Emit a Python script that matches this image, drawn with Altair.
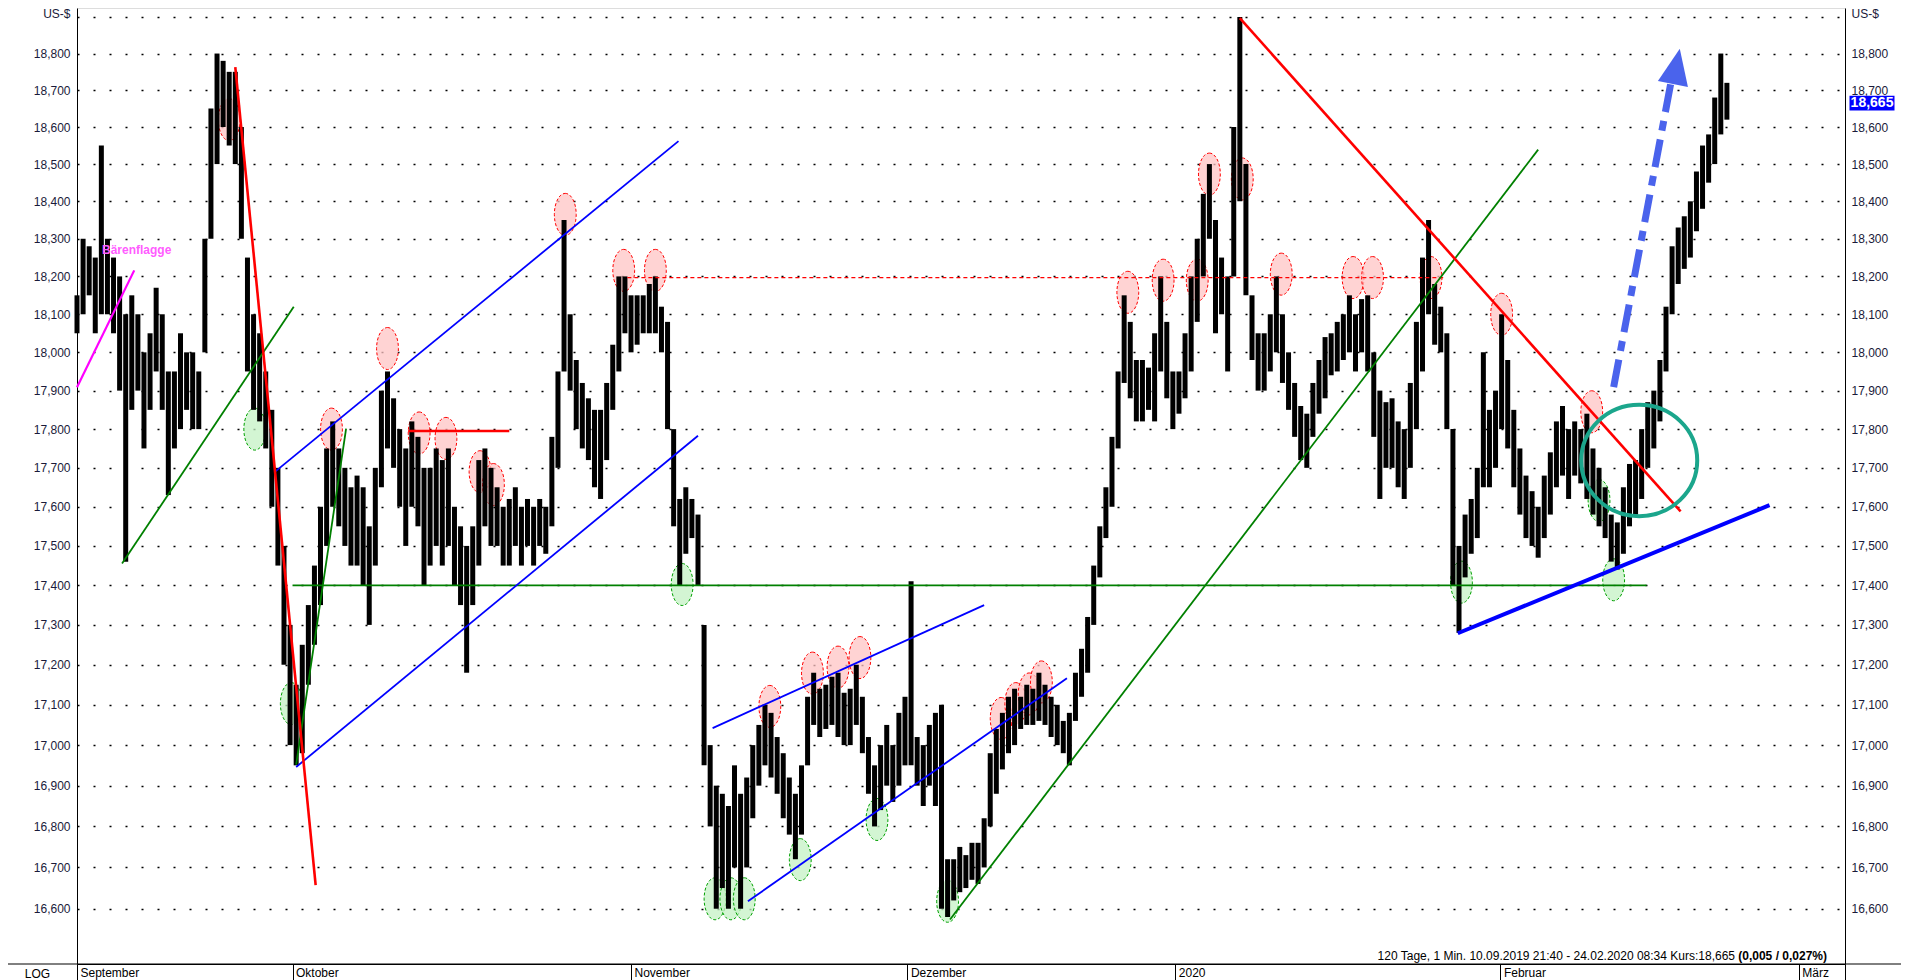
import altair as alt
import pandas as pd

# ---------------- data ----------------
# price bars (US-$), one bar per time slot
LOW = [
    18.05, 18.10, 18.15, 18.05, 18.10, 18.10, 18.05, 17.90, 17.46, 17.85,
    17.90, 17.75, 17.85, 17.95, 17.85, 17.63, 17.75, 17.80, 17.85, 17.80,
    17.80, 18.00, 18.30, 18.50, 18.60, 18.55, 18.50, 18.30, 17.95, 17.85,
    17.82, 17.75, 17.60, 17.45, 17.20, 17.00, 16.95, 16.98, 17.15, 17.25,
    17.35, 17.50, 17.60, 17.55, 17.50, 17.45, 17.45, 17.40, 17.30, 17.45,
    17.65, 17.75, 17.70, 17.60, 17.50, 17.60, 17.55, 17.40, 17.45, 17.50,
    17.45, 17.50, 17.40, 17.35, 17.18, 17.35, 17.45, 17.55, 17.50, 17.50,
    17.45, 17.45, 17.50, 17.45, 17.50, 17.45, 17.50, 17.48, 17.55, 17.70,
    17.95, 17.90, 17.80, 17.75, 17.72, 17.65, 17.62, 17.72, 17.85, 17.95,
    18.05, 18.00, 18.02, 18.05, 18.05, 18.05, 18.00, 17.80, 17.55, 17.40,
    17.48, 17.52, 17.40, 16.95, 16.80, 16.60, 16.65, 16.60, 16.70, 16.60,
    16.70, 16.82, 16.90, 16.95, 16.92, 16.88, 16.82, 16.78, 16.72, 16.78,
    16.95, 17.05, 17.02, 17.04, 17.05, 17.02, 17.00, 17.00, 17.05, 16.98,
    16.88, 16.80, 16.84, 16.90, 16.86, 16.90, 16.95, 16.95, 16.90, 16.85,
    16.90, 16.85, 16.60, 16.58, 16.62, 16.64, 16.65, 16.67, 16.66, 16.70,
    16.80, 16.88, 16.94, 16.98, 17.00, 17.04, 17.05, 17.05, 17.06, 17.05,
    17.02, 17.00, 16.98, 16.95, 17.06, 17.12, 17.18, 17.30, 17.42, 17.52,
    17.60, 17.75, 17.92, 17.88, 17.82, 17.82, 17.85, 17.82, 17.95, 17.88,
    17.80, 17.84, 17.88, 17.95, 18.08, 18.20, 18.30, 18.05, 18.10, 17.95,
    18.20, 18.40, 18.15, 17.98, 17.90, 17.90, 17.95, 18.00, 17.92, 17.85,
    17.78, 17.72, 17.70, 17.78, 17.84, 17.88, 17.94, 17.95, 17.98, 18.00,
    17.95, 18.00, 17.95, 17.78, 17.62, 17.70, 17.70, 17.65, 17.62, 17.70,
    17.80, 17.95, 18.10, 18.02, 18.00, 17.80, 17.40, 17.28, 17.42, 17.48,
    17.52, 17.65, 17.65, 17.70, 17.80, 17.75, 17.65, 17.58, 17.52, 17.50,
    17.47, 17.52, 17.58, 17.65, 17.68, 17.62, 17.68, 17.66, 17.62, 17.58,
    17.55, 17.52, 17.46, 17.44, 17.48, 17.55, 17.58, 17.62, 17.70, 17.75,
    17.82, 17.95, 18.10, 18.18, 18.22, 18.25, 18.32, 18.38, 18.45, 18.50,
    18.58, 18.62,
]
HIGH = [
    18.15, 18.30, 18.28, 18.25, 18.55, 18.30, 18.25, 18.20, 18.10, 18.15,
    18.10, 18.00, 18.05, 18.17, 18.10, 17.95, 17.95, 18.05, 18.00, 18.00,
    17.95, 18.30, 18.65, 18.80, 18.78, 18.75, 18.75, 18.60, 18.25, 18.10,
    18.05, 17.95, 17.85, 17.70, 17.50, 17.30, 17.15, 17.25, 17.35, 17.45,
    17.60, 17.75, 17.82, 17.75, 17.70, 17.65, 17.68, 17.65, 17.55, 17.70,
    17.90, 17.95, 17.88, 17.80, 17.75, 17.82, 17.78, 17.70, 17.70, 17.75,
    17.72, 17.75, 17.60, 17.55, 17.50, 17.55, 17.72, 17.75, 17.70, 17.65,
    17.60, 17.62, 17.65, 17.60, 17.62, 17.60, 17.62, 17.60, 17.78, 17.95,
    18.35, 18.10, 17.98, 17.92, 17.88, 17.85, 17.85, 17.92, 18.02, 18.20,
    18.20, 18.15, 18.15, 18.15, 18.18, 18.20, 18.12, 18.08, 17.80, 17.62,
    17.65, 17.62, 17.58, 17.30, 17.00, 16.90, 16.88, 16.85, 16.95, 16.88,
    16.92, 17.00, 17.05, 17.10, 17.08, 17.02, 16.98, 16.92, 16.88, 16.95,
    17.12, 17.18, 17.14, 17.15, 17.17, 17.18, 17.13, 17.14, 17.20, 17.12,
    17.02, 16.95, 17.00, 17.05, 17.00, 17.08, 17.12, 17.41, 17.02, 17.00,
    17.05, 17.08, 17.10, 16.72, 16.72, 16.75, 16.73, 16.76, 16.76, 16.82,
    16.98, 17.04, 17.08, 17.12, 17.14, 17.12, 17.15, 17.14, 17.18, 17.15,
    17.12, 17.10, 17.06, 17.08, 17.18, 17.24, 17.32, 17.45, 17.55, 17.65,
    17.78, 17.95, 18.15, 18.08, 17.98, 17.98, 17.96, 18.05, 18.20, 18.08,
    17.95, 17.95, 18.05, 18.20, 18.30, 18.42, 18.50, 18.35, 18.25, 18.20,
    18.60, 18.90, 18.50, 18.15, 18.05, 18.05, 18.10, 18.20, 18.10, 18.00,
    17.92, 17.86, 17.84, 17.92, 17.98, 18.04, 18.05, 18.08, 18.10, 18.15,
    18.10, 18.14, 18.15, 18.00, 17.90, 17.87, 17.88, 17.82, 17.80, 17.92,
    18.08, 18.25, 18.35, 18.18, 18.12, 18.05, 17.80, 17.50, 17.58, 17.62,
    17.70, 18.00, 17.85, 17.90, 18.10, 17.98, 17.85, 17.75, 17.68, 17.64,
    17.60, 17.68, 17.74, 17.82, 17.86, 17.80, 17.82, 17.80, 17.84, 17.75,
    17.70, 17.65, 17.58, 17.56, 17.65, 17.71, 17.72, 17.80, 17.87, 17.90,
    17.98, 18.12, 18.28, 18.33, 18.36, 18.40, 18.48, 18.55, 18.58, 18.68,
    18.80, 18.72,
]

# x axis: month starts (in time slots) and their labels
MONTH_TICKS = [0.0, 35.4, 91.0, 136.4, 180.4, 233.8, 282.8, 290.4]
MONTH_LABELS = ["September", "Oktober", "November", "Dezember", "2020", "Februar", "März", ""]
X_DOMAIN = [0.0, 290.4]

# y axis (log), US-$
Y_TICKS = [16.6, 16.7, 16.8, 16.9, 17.0, 17.1, 17.2, 17.3, 17.4, 17.5, 17.6, 17.7,
           17.8, 17.9, 18.0, 18.1, 18.2, 18.3, 18.4, 18.5, 18.6, 18.7, 18.8, 18.9]
Y_DOMAIN = [16.467, 18.925]

LAST_PRICE = 18.665
LAST_LABEL = "18,665"

# drawn trend lines: (x1, y1, x2, y2)
RED_SEG = [(26.0, 18.763, 39.2, 16.657), (54.4, 17.795, 71.0, 17.795), (191.0, 18.897, 263.4, 17.588)]
RED_DASH_SEG = [(90.4, 18.197, 224.4, 18.197)]
GREEN_SEG = [(7.4, 17.455, 35.6, 18.120), (36.0, 16.952, 44.2, 17.801),
             (143.4, 16.574, 240.0, 18.539), (35.4, 17.40, 257.8, 17.40)]
BLUE_SEG = [(32.6, 17.691, 98.8, 18.562), (36.0, 16.946, 102.0, 17.783),
            (104.4, 17.042, 149.0, 17.350), (110.2, 16.618, 162.6, 17.166)]
BLUE_THICK_SEG = [(226.8, 17.279, 278.0, 17.604)]
MAGENTA_SEG = [(0.0, 17.909, 9.4, 18.216)]
ARROW_SEG = [(252.4, 17.909, 261.8, 18.72)]
ARROW_HEAD = [(262.7, 18.765)]

# marked highs (red ellipses) and lows (green ellipses)
RED_MARKS = [(25.0, 18.62), (41.8, 17.80), (51.0, 18.01), (56.2, 17.79), (60.6, 17.776),
             (66.2, 17.69), (68.4, 17.657), (80.2, 18.365), (89.8, 18.216), (95.0, 18.216),
             (113.8, 17.096), (120.8, 17.179), (125.0, 17.194), (128.6, 17.218),
             (151.8, 17.066), (154.2, 17.103), (156.4, 17.127), (158.4, 17.157),
             (172.6, 18.158), (178.4, 18.19), (184.0, 18.19), (186.0, 18.473), (191.4, 18.46),
             (197.8, 18.206), (209.6, 18.197), (212.8, 18.197), (222.4, 18.197),
             (234.0, 18.10), (248.8, 17.845)]
GREEN_MARKS = [(29.2, 17.80), (35.2, 17.103), (99.4, 17.402), (104.8, 16.624), (107.4, 16.624),
               (109.6, 16.624), (118.8, 16.719), (131.4, 16.817), (143.0, 16.618),
               (227.4, 17.408), (250.0, 17.616), (252.4, 17.414)]
CIRCLE = [(256.6, 17.719)]

FLAG_TEXT = [(9.8, 18.271, "Bärenflagge")]
INFO_MAIN = "120 Tage, 1 Min. 10.09.2019 21:40 - 24.02.2020 08:34 Kurs:18,665"
INFO_BOLD = "(0,005 / 0,027%)"

# ---------------- chart ----------------
FONT = "Liberation Sans"
W, H = 1768, 956
xs = alt.Scale(domain=X_DOMAIN, nice=False, zero=False)
ys = alt.Scale(type="log", domain=Y_DOMAIN, nice=False, zero=False)

bars = pd.DataFrame({"t": list(range(len(LOW))), "lo": LOW, "hi": HIGH})

# x label expression from month ticks
mids = [(MONTH_TICKS[i] + MONTH_TICKS[i + 1]) / 2 for i in range(len(MONTH_TICKS) - 1)]
expr = "''"
for m, lab in reversed(list(zip(mids, MONTH_LABELS[:-1]))):
    expr = f"datum.value < {m} ? '{lab}' : ({expr})"
x_label_expr = expr
y_label_expr = "datum.value > 18.85 ? '' : replace(format(datum.value, '.3f'), '.', ',')"

x_axis = alt.Axis(values=MONTH_TICKS, labelExpr=x_label_expr, grid=False, tickSize=16,
                  tickColor="black", tickWidth=1, domainColor="black", domainWidth=1,
                  labelAlign="left", labelBaseline="top", labelOffset=3, labelPadding=-13,
                  labelFont=FONT, labelFontSize=12, labelColor="black", labelOverlap=False,
                  labelFlush=False, labelBound=False,
                  title="LOG", titleX=-40, titleY=9, titleBaseline="middle", titleAlign="center",
                  titleFont=FONT, titleFontSize=12, titleFontWeight="normal", titleColor="black")

y_left = alt.Axis(orient="left", values=Y_TICKS, labelExpr=y_label_expr, grid=True,
                  gridColor="black", gridDash=[2, 14], gridWidth=1.5, ticks=False,
                  domainColor="black", domainWidth=1, labelPadding=7,
                  labelFont=FONT, labelFontSize=12, labelColor="#1a1a3a",
                  title="US-$", titleAngle=0, titleAlign="right", titleX=-7, titleY=0,
                  titleBaseline="top", titleFont=FONT, titleFontSize=12,
                  titleFontWeight="normal", titleColor="#1a1a3a")
y_right = alt.Axis(orient="right", values=Y_TICKS, labelExpr=y_label_expr, grid=False,
                   ticks=False, domainColor="black", domainWidth=1, labelPadding=6,
                   labelFont=FONT, labelFontSize=12, labelColor="#1a1a3a",
                   title="US-$", titleAngle=0, titleAlign="left", titleX=6, titleY=0,
                   titleBaseline="top", titleFont=FONT, titleFontSize=12,
                   titleFontWeight="normal", titleColor="#1a1a3a")


def X(field):
    # every layer carries the same x axis definition so the shared axis is not disabled
    return alt.X(field, scale=xs, axis=x_axis)


ELLIPSE = "M0,-1 A0.52,1 0 1,1 0,1 A0.52,1 0 1,1 0,-1 Z"


def marks_layer(points, fill, stroke):
    df = pd.DataFrame(points, columns=["x", "y"])
    return alt.Chart(df).mark_point(shape=ELLIPSE, size=1764, filled=True, fill=fill,
                                    fillOpacity=0.75, stroke=stroke, strokeWidth=1,
                                    strokeDash=[3, 2], opacity=1).encode(
        x=X("x:Q"), y=alt.Y("y:Q", scale=ys, axis=None))


def seg_layer(segs, color, width, dash=None):
    df = pd.DataFrame(segs, columns=["x1", "y1", "x2", "y2"])
    kw = dict(color=color, strokeWidth=width)
    if dash:
        kw["strokeDash"] = dash
    return alt.Chart(df).mark_rule(**kw).encode(
        x=X("x1:Q"), y=alt.Y("y1:Q", scale=ys, axis=None),
        x2="x2:Q", y2="y2:Q")


red_marks = marks_layer(RED_MARKS, "#ffc4c4", "#ff0000")
green_marks = marks_layer(GREEN_MARKS, "#c4f2c4", "#00a000")

price = alt.Chart(bars).mark_rule(color="black", strokeWidth=5.0).encode(
    x=X("t:Q"),
    y=alt.Y("lo:Q", scale=ys, axis=y_left),
    y2="hi:Q")

lines = [
    seg_layer(RED_DASH_SEG, "#ff0000", 1.3, [4, 3]),
    seg_layer(GREEN_SEG, "#008000", 1.8),
    seg_layer(BLUE_SEG, "#0000ff", 1.8),
    seg_layer(BLUE_THICK_SEG, "#0000ff", 4),
    seg_layer(MAGENTA_SEG, "#ff00ff", 2.2),
    seg_layer(RED_SEG, "#ff0000", 2.6),
]

circle = alt.Chart(pd.DataFrame(CIRCLE, columns=["x", "y"])).mark_point(
    shape="M1,0 A1,0.96 0 1,1 -1,0 A1,0.96 0 1,1 1,0 Z", size=13456, filled=False,
    stroke="#1ba68c", strokeWidth=4, opacity=1).encode(
    x=X("x:Q"), y=alt.Y("y:Q", scale=ys, axis=None))

arrow = seg_layer(ARROW_SEG, "#4a63ec", 7, [28, 9, 10, 9])
arrow_head = alt.Chart(pd.DataFrame(ARROW_HEAD, columns=["x", "y"])).mark_point(
    shape="M0,-1 L0.85,1 L-0.85,1 Z", size=1296, filled=True, fill="#4a63ec",
    strokeWidth=0, angle=11, opacity=1).encode(
    x=X("x:Q"), y=alt.Y("y:Q", scale=ys, axis=None))

flag = alt.Chart(pd.DataFrame(FLAG_TEXT, columns=["x", "y", "t"])).mark_text(
    font=FONT, fontSize=12, fontWeight="bold", color="#ff5cff", align="center",
    baseline="middle").encode(
    x=X("x:Q"), y=alt.Y("y:Q", scale=ys, axis=None), text="t:N")

last_df = pd.DataFrame({"y": [LAST_PRICE], "t": [LAST_LABEL]})
last_box = alt.Chart(last_df).mark_point(
    shape="M-1,-0.33 L1,-0.33 L1,0.33 L-1,0.33 Z", size=2025, filled=True,
    fill="#0000ff", strokeWidth=0, opacity=1).encode(
    x=alt.value(W + 27), y=alt.Y("y:Q", scale=ys, axis=y_right))
last_text = alt.Chart(last_df).mark_text(
    font=FONT, fontSize=14, fontWeight="bold", color="white", align="center",
    baseline="middle").encode(
    x=alt.value(W + 27), y=alt.Y("y:Q", scale=ys, axis=None), text="t:N")

info_main = alt.Chart(pd.DataFrame({"t": [INFO_MAIN]})).mark_text(
    font=FONT, fontSize=12, color="black", align="right", baseline="middle").encode(
    x=alt.value(W - 110), y=alt.value(H - 8), text="t:N")
info_bold = alt.Chart(pd.DataFrame({"t": [INFO_BOLD]})).mark_text(
    font=FONT, fontSize=12, fontWeight="bold", color="black", align="right",
    baseline="middle").encode(
    x=alt.value(W - 18), y=alt.value(H - 8), text="t:N")

# full-width separator under the plot
bottom_line = alt.Chart(pd.DataFrame({"a": [0]})).mark_rule(color="black", strokeWidth=1).encode(
    x=alt.value(-69), x2=alt.value(W + 60), y=alt.value(H))

chart = alt.layer(
    red_marks, green_marks, price, *lines, circle, arrow, arrow_head, flag,
    last_box, last_text, info_main, info_bold, bottom_line
).resolve_axis(y="independent").properties(
    width=W, height=H,
    padding={"left": 69, "top": 0, "right": 56, "bottom": 16},
    autosize=alt.AutoSizeParams(type="none"),
    background="white",
).configure_view(stroke=None).configure(font=FONT)

chart.save("out.html", embed_options={"renderer": "svg", "actions": False})
